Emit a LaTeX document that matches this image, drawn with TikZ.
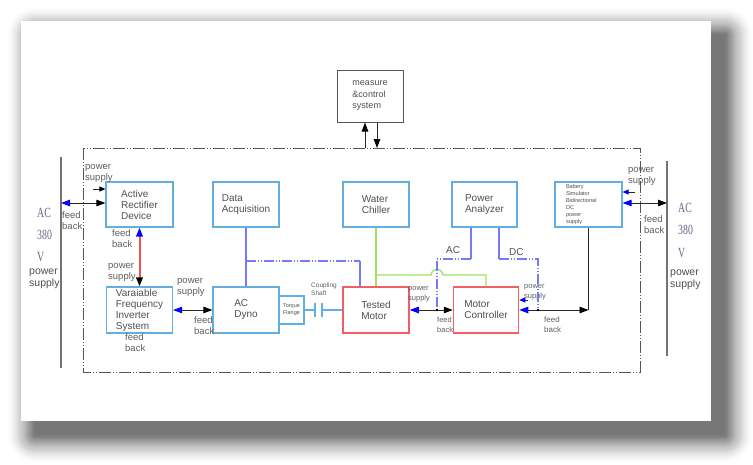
\documentclass[tikz,border=0pt]{standalone}
\usepackage{fontspec}
\usepackage{graphicx}
\setmainfont{Liberation Sans}
\newfontfamily\serifac{Liberation Serif}
\usetikzlibrary{arrows.meta,calc}
\definecolor{boxblue}{RGB}{100,175,225}
\definecolor{boxred}{RGB}{240,95,100}
\definecolor{lineblue}{RGB}{120,120,250}
\definecolor{linegreen}{RGB}{160,225,95}
\definecolor{txt}{RGB}{80,80,80}
\definecolor{lblc}{RGB}{95,95,95}
\definecolor{acc}{RGB}{100,105,135}
\definecolor{framec}{RGB}{85,85,85}
\definecolor{redline}{RGB}{245,80,85}
\begin{document}
\begin{tikzpicture}[x=1pt,y=-1pt,
  box/.style={draw=boxblue, line width=1.2pt, inner sep=0pt, align=left, text=txt, font=\fontsize{10}{11}\selectfont},
  rbox/.style={box, draw=boxred, line width=1.5pt},
  kbox/.style={box, draw=framec, line width=1pt, font=\fontsize{9}{11.5}\selectfont},
  lbl/.style={inner sep=0pt, anchor=north west, align=left, text=lblc, font=\fontsize{9.5}{10.5}\selectfont, execute at begin node=\strut},
  slbl/.style={lbl, font=\fontsize{7.5}{9.5}\selectfont},
  conn/.style={draw=black!85, line width=0.9pt},
  fr/.style={draw=framec, line width=1pt},
  bl/.style={draw=lineblue, line width=1.3pt},
  bldd/.style={bl, dash pattern=on 10pt off 2pt on 1pt off 2pt on 1pt off 2pt},
  gl/.style={draw=linegreen, line width=1.3pt},
  redlink/.style={draw=redline, line width=2pt},
  acl/.style={inner sep=0pt, anchor=base west, text=acc, font=\serifac\fontsize{14}{14}\selectfont},
  BT/.tip={Triangle[length=9pt,width=6.5pt,color=blue]},
  KT/.tip={Triangle[length=9pt,width=6.5pt,color=black]},
  sBT/.tip={Triangle[length=6pt,width=5pt,color=blue]},
  sKT/.tip={Triangle[length=6pt,width=5pt,color=black]},
]
\useasboundingbox (0,0) rectangle (753,464);
% card shadow
\foreach \r in {0,...,29} {
  \pgfmathsetmacro{\op}{0.05*(1-\r/30)}
  \fill[black, opacity=\op, rounded corners=\r pt] ({35-\r},{35-\r}) rectangle ({725+\r},{435+\r});
}
\fill[white] (21,21) rectangle (711,421);

% outer power lines and frame
\draw[draw=black!55, line width=1.3pt] (61,157) -- (61,368);
\draw[draw=black!55, line width=1.3pt] (667,161) -- (667,356);
\draw[fr, dash pattern=on 12pt off 2pt on 1pt off 2pt on 1pt off 2pt] (83,148) rectangle (640,372);

% boxes
\node[kbox, minimum width=66pt, minimum height=52pt] (ms) at (370,96) {measure\\\&control\\system};
\node[box, minimum width=67pt, minimum height=45pt] (ard) at (139.5,204.5) {Active\\Rectifier\\Device};
\node[box, minimum width=66pt, minimum height=45pt] (daq) at (246,204.5) {Data\\Acquisition};
\node[box, minimum width=66pt, minimum height=45pt] (wc) at (376,204.5) {Water\\Chiller};
\node[box, minimum width=65pt, minimum height=45pt] (pa) at (484.5,204.5) {Power\\Analyzer};
\node[box, minimum width=67pt, minimum height=45pt, text width=45pt, font=\fontsize{5.6}{7}\selectfont] (bat) at (588.5,204.5) {Battery\\Simulator\\Bidirectional\\DC\\power\\supply};
\node[box, minimum width=66pt, minimum height=46pt] (vfi) at (139.5,310) {Varaiable\\Frequency\\Inverter\\System};
\node[box, minimum width=66pt, minimum height=46pt] (dyno) at (246,310) {AC\\Dyno};
\node[box, minimum width=25pt, minimum height=28pt, align=center, font=\fontsize{5.5}{7}\selectfont] (tf) at (291.5,310) {Torque\\Flange};
\node[rbox, minimum width=66pt, minimum height=46pt] (tm) at (376,310) {Tested\\Motor};
\node[rbox, minimum width=65pt, minimum height=46pt] (mc) at (486,310) {Motor\\Controller};

% labels
\node[lbl] (l1) at (85,164.6) {power\\supply};
\node[lbl] (l2) at (62,211.6) {feed\\back};
\node[lbl] (l3) at (112,229.6) {feed\\back};
\node[lbl] (l4) at (108,263.6) {power\\supply};
\node[lbl] (l5) at (177,278.6) {power\\supply};
\node[lbl] (l6) at (194,316.6) {feed\\back};
\node[lbl] (l7) at (125,333.6) {feed\\back};
\node[slbl] (l10) at (408,286.3) {power\\supply};
\node[slbl] (l11) at (437,317.3) {feed\\back};
\node[slbl] (l12) at (524,284.3) {power\\supply};
\node[slbl, font=\fontsize{8}{10}\selectfont] (l13) at (544,316) {feed\\back};
\node[lbl] (l14) at (628,167.6) {power\\supply};
\node[lbl] (l15) at (644,215.6) {feed\\back};
\node[lbl, font=\fontsize{6.5}{8}\selectfont] (l8) at (311,282.4) {Coupling\\Shaft};
\node[inner sep=0pt, anchor=base west, text=txt, font=\fontsize{10}{11}\selectfont] (lac) at (446,253) {AC};
\node[inner sep=0pt, anchor=base west, text=txt, font=\fontsize{10}{11}\selectfont] (ldc) at (509,255) {DC};

% AC 380 V labels
\node[acl] (acL1) at (37,217) {\scalebox{0.7}[1]{AC}};
\node[acl] (acL2) at (37,239) {\scalebox{0.7}[1]{380}};
\node[acl] (acL3) at (37,261) {\scalebox{0.7}[1]{V}};
\node[lbl, text=txt, font=\fontsize{10.5}{12}\selectfont] (acL4) at (29,268.6) {power\\supply};
\node[acl] (acR1) at (678,212) {\scalebox{0.7}[1]{AC}};
\node[acl] (acR2) at (678,234) {\scalebox{0.7}[1]{380}};
\node[acl] (acR3) at (678,257) {\scalebox{0.7}[1]{V}};
\node[lbl, text=txt, font=\fontsize{10.5}{12}\selectfont] (acR4) at (670,269.6) {power\\supply};

% coordinates
\coordinate (L1) at (61,203);
\coordinate (R1) at (667,203);
\coordinate (p1) at (93,189);
\coordinate (m1) at (365,148);
\coordinate (m2) at (377,148);
\coordinate (j1) at (246,261);
\coordinate (j2) at (360,261);
\coordinate (g1) at (376,275);
\coordinate (g2) at (486,275);
\coordinate (a1) at (471,259);
\coordinate (a2) at (437,259);
\coordinate (a3) at (437,310);
\coordinate (d1) at (499,259);
\coordinate (d2) at (538,259);
\coordinate (d3) at (538,310);
\coordinate (b1) at (bat.south |- mc.east);
\coordinate (s2) at (528,300);
\coordinate (s3) at (635,192);
\coordinate (c1) at (315,310);
\coordinate (c2) at (322,310);

% measure & control arrows
\draw[conn, -KT] (m1) -- (m1 |- ms.south);
\draw[conn, -KT] (m2 |- ms.south) -- (m2);

% left side
\draw[conn, BT-KT] (L1) -- (L1 -| ard.west);
\draw[conn, -sKT] (p1) -- (p1 -| ard.west);
\draw[conn, BT-KT] (vfi.east) -- (dyno.west);

% data acquisition
\draw[bl] (daq.south) -- (dyno.north);
\draw[bldd] (j1) -- (j2);
\draw[bl] (j2) -- (j2 |- tm.north);

% coupling shaft
\draw[draw=boxblue, line width=1.1pt] (tf.east) -- (c1);
\draw[draw=boxblue, line width=1.1pt] ($(c1)+(0,-7)$) -- ($(c1)+(0,7)$);
\draw[draw=boxblue, line width=1.1pt] ($(c2)+(0,-7)$) -- ($(c2)+(0,7)$);
\draw[draw=boxblue, line width=1.1pt] (c2) -- (tm.west);

% water chiller
\draw[gl] (wc.south) -- (tm.north);
\draw[gl] (g1) -- (431,275) .. controls (432.5,267) and (441.5,267) .. (443,275) -- (g2) -- (g2 |- mc.north);

% power analyzer
\draw[bl] (pa.south -| a1) -- (a1);
\draw[bldd] (a1) -- (a2) -- (a3);
\draw[bl] (pa.south -| d1) -- (d1);
\draw[bldd] (d1) -- (d2) -- (d3);

% motor connections
\draw[conn, BT-KT] (tm.east) -- (mc.west);
\draw[conn, BT-KT] (mc.east) -- (b1);
\draw[conn] (bat.south) -- (b1);
\draw[conn, -sBT] (s2) -- (s2 -| mc.east);
\fill[black] (a3) circle (1.3pt);
\fill[black] (d3) circle (1.3pt);

% battery right
\draw[conn, BT-KT] (R1 -| bat.east) -- (R1);
\draw[conn, -sBT] (s3) -- (s3 -| bat.east);

% red link between rectifier and inverter
\draw[redlink, BT-KT] (ard.south) -- (vfi.north);
\end{tikzpicture}
\end{document}
